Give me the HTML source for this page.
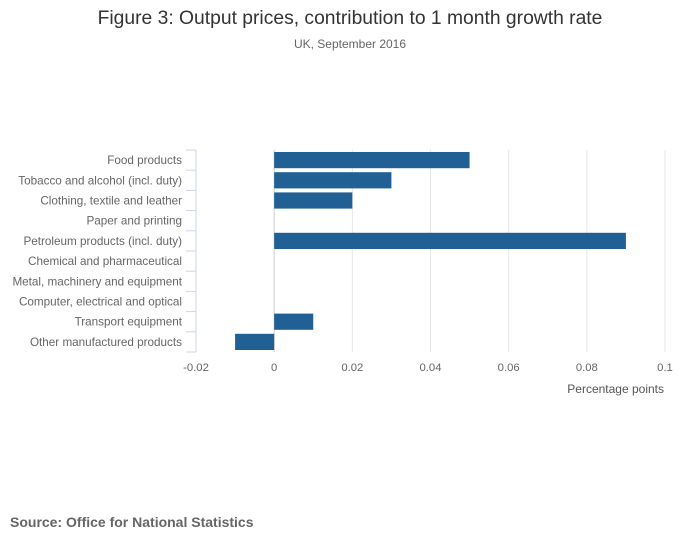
<!DOCTYPE html>
<html><head><meta charset="utf-8"><style>
body{margin:0;background:#fff;font-family:"Liberation Sans",sans-serif}
svg text{font-family:"Liberation Sans",sans-serif}
</style></head><body>
<svg id="c" width="700" height="549" xmlns="http://www.w3.org/2000/svg">
<rect width="700" height="549" fill="#fff"/>
<text x="350" y="24" text-anchor="middle" font-size="19.3" fill="#333">Figure 3: Output prices, contribution to 1 month growth rate</text>
<text x="350" y="48" text-anchor="middle" font-size="12" fill="#666">UK, September 2016</text>
<text x="664" y="393" text-anchor="end" font-size="12" fill="#555">Percentage points</text>
<text x="10" y="527" font-size="14" font-weight="bold" fill="#666">Source: Office for National Statistics</text>
<g id="plot"></g>
</svg>
<script>
const categories=["Food products","Tobacco and alcohol (incl. duty)","Clothing, textile and leather","Paper and printing","Petroleum products (incl. duty)","Chemical and pharmaceutical","Metal, machinery and equipment","Computer, electrical and optical","Transport equipment","Other manufactured products"];
const values=[0.05,0.03,0.02,0,0.09,0,0,0,0.01,-0.01];
const ticks=[-0.02,0,0.02,0.04,0.06,0.08,0.1];
const tickLabels=["-0.02","0","0.02","0.04","0.06","0.08","0.1"];
const NS="http://www.w3.org/2000/svg";
const g=document.getElementById('plot');
const x0=196,x1=665,yTop=150,yBottom=352;
const band=(yBottom-yTop)/categories.length;
const xs=v=>x0+(v-(-0.02))/(0.12)*(x1-x0);
const ys=i=>yTop+i*band;
function mk(t,a){const e=document.createElementNS(NS,t);for(const k in a)e.setAttribute(k,a[k]);g.appendChild(e);return e;}
ticks.forEach((t,i)=>{
  const l=mk('line',{x1:xs(t),x2:xs(t),y1:yTop,y2:yBottom,stroke:t===0?'#ccc':'#e6e6e6','stroke-width':1});
  
  
  const tx=mk('text',{x:xs(t),y:371,'text-anchor':'middle','font-size':11.3,fill:'#666'});
  tx.textContent=tickLabels[i];
  
  
});
const ax=mk('line',{x1:x0,x2:x0,y1:yTop,y2:yBottom,stroke:'#ccd6eb'});


for(let i=0;i<=categories.length;i++){
  const tk=mk('line',{x1:x0-10,x2:x0,y1:ys(i),y2:ys(i),stroke:'#ccd6eb'});
  
  
}
categories.forEach((c,i)=>{
  const tx=mk('text',{x:182,y:ys(i)+band/2+4,'text-anchor':'end','font-size':11.7,fill:'#666'});
  tx.textContent=c;
  
  
  const v=values[i];
  if(v!==0){
    const a=xs(Math.min(0,v)),b=xs(Math.max(0,v));
    const r=mk('rect',{x:a,y:ys(i)+2,width:b-a,height:band-4,fill:'#206095'});
    
    
  }
});
</script>
</body></html>
